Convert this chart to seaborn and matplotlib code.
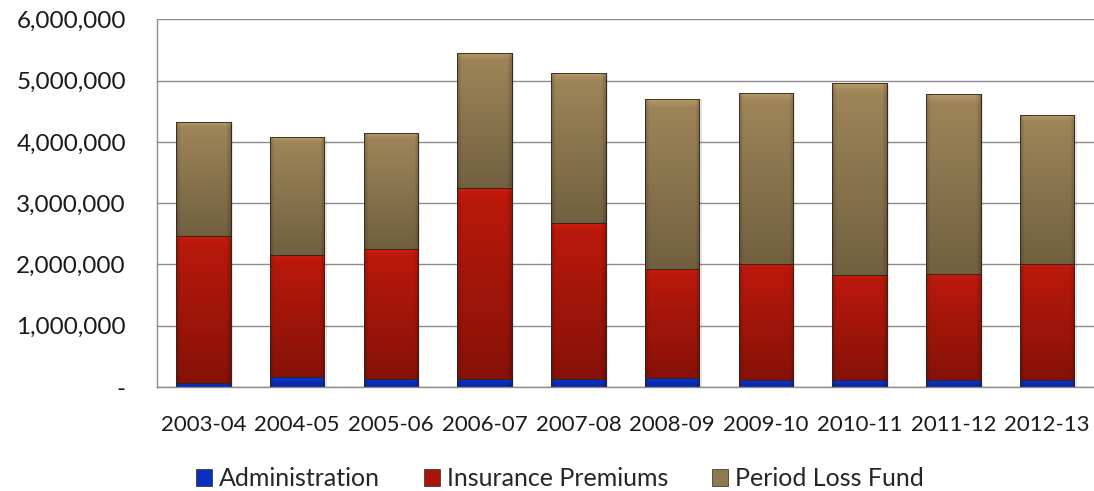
import numpy as np
import pandas as pd
import matplotlib
matplotlib.use("Agg")
import matplotlib.pyplot as plt
import matplotlib.ticker as mticker
from matplotlib.patches import Patch
from matplotlib.colors import to_rgb
import seaborn as sns

years = ["2003-04", "2004-05", "2005-06", "2006-07", "2007-08",
         "2008-09", "2009-10", "2010-11", "2011-12", "2012-13"]
administration = [70000, 160000, 130000, 130000, 130000, 145000, 110000, 110000, 110000, 110000]
insurance_premiums = [2400000, 1995000, 2120000, 3120000, 2550000, 1785000, 1900000, 1720000, 1740000, 1900000]
period_loss_fund = [1850000, 1925000, 1890000, 2200000, 2440000, 2770000, 2790000, 3130000, 2930000, 2430000]

series_names = ["Administration", "Insurance Premiums", "Period Loss Fund"]
colors = {"Administration": "#0b2fc0",
          "Insurance Premiums": "#a8160a",
          "Period Loss Fund": "#8e7850"}

sns.set_theme(style="white")
plt.rcParams["font.family"] = ["Lato", "DejaVu Sans"]

df = pd.DataFrame({"year": years,
                   "Administration": administration,
                   "Insurance Premiums": insurance_premiums,
                   "Period Loss Fund": period_loss_fund})
cum = df[series_names].cumsum(axis=1)
lower = {"Administration": np.zeros(len(years)),
         "Insurance Premiums": cum["Administration"].to_numpy(),
         "Period Loss Fund": cum["Insurance Premiums"].to_numpy()}

fig = plt.figure(figsize=(10.94, 4.91), dpi=100)
ax = fig.add_axes([0.1431, 0.2118, 0.8569, 0.7489])

bar_w = 0.58
# stacked bars: draw cumulative totals from the top series down
layers = {}
for name in reversed(series_names):
    n_before = len(ax.patches)
    sns.barplot(data=cum.assign(year=years), x="year", y=name, color=colors[name],
                width=bar_w, ax=ax, saturation=1, edgecolor="#3a2e1c",
                linewidth=0.6, zorder=2)
    layers[name] = ax.patches[n_before:]


def shade(base, h, w):
    """Bevel-like shading: light top edge, darker bottom and sides."""
    r, g, b = to_rgb(base)
    yy = np.linspace(0, 1, h)[:, None]        # 0 top -> 1 bottom
    xx = np.linspace(-1, 1, w)[None, :]
    v = 1.12 - 0.32 * yy
    side = 1 - 0.18 * np.clip((np.abs(xx) - 0.85) / 0.15, 0, 1)
    top = 1 + 0.12 * np.clip((0.04 - yy) / 0.04, 0, 1)
    f = v * side * top
    img = np.stack([np.clip(r * f, 0, 1), np.clip(g * f, 0, 1), np.clip(b * f, 0, 1)], axis=-1)
    return img


for name in series_names:
    for i, p in enumerate(layers[name]):
        x0 = p.get_x()
        w = p.get_width()
        y1 = p.get_height()
        y0 = lower[name][i]
        # soft shadow to the right of each bar
        if name == "Period Loss Fund":
            ax.add_patch(plt.Rectangle((x0 + w, 0), 0.025, y1, facecolor="#000000",
                                       alpha=0.10, linewidth=0, zorder=1.5))
        img = shade(colors[name], 60, 40)
        ax.imshow(img, extent=(x0, x0 + w, y0, y1), aspect="auto",
                  origin="upper", zorder=2.5, interpolation="bilinear")
        ax.add_patch(plt.Rectangle((x0, y0), w, y1 - y0, facecolor="none",
                                   edgecolor="#2f2618", linewidth=0.6, zorder=2.6))

ax.set_xlim(-0.5, len(years) - 0.5)
ax.set_ylim(0, 6000000)
ax.yaxis.set_major_locator(mticker.MultipleLocator(1000000))
ax.yaxis.set_major_formatter(mticker.FuncFormatter(lambda v, _: "-" if v == 0 else f"{v:,.0f}"))
ax.grid(axis="y", color="#8c8c8c", linewidth=1.0, zorder=0)
ax.set_axisbelow(True)
for s in ["top", "right"]:
    ax.spines[s].set_visible(False)
for s in ["left", "bottom"]:
    ax.spines[s].set_color("#8c8c8c")
    ax.spines[s].set_linewidth(1.0)
ax.set_xlabel("")
ax.set_ylabel("")
ax.tick_params(axis="y", labelsize=17.5, pad=22, length=0, colors="#1a1a1a")
ax.tick_params(axis="x", labelsize=16, pad=20, length=0, colors="#1a1a1a")

handles = [Patch(facecolor=colors[n], edgecolor="#2f2618", linewidth=0.5) for n in series_names]
fig.legend(handles, series_names, loc="center", ncol=3, frameon=False,
           bbox_to_anchor=(0.512, 0.025), fontsize=18, handlelength=0.64, handleheight=0.64,
           handletextpad=0.28, columnspacing=1.75, borderpad=0)

fig.savefig("out.png", dpi=100)
